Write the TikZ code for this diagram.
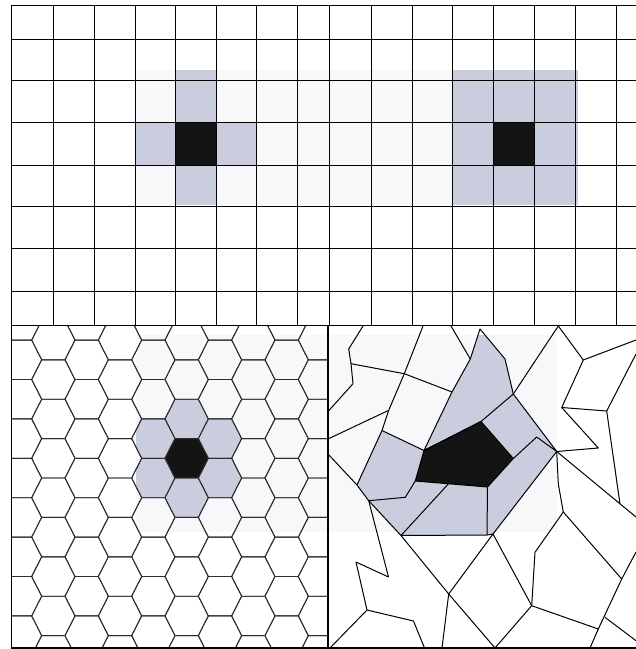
\documentclass[tikz,border=0pt]{standalone}
\definecolor{faint}{RGB}{248,248,251}
\definecolor{cellgray}{RGB}{201,205,221}
\definecolor{cellblack}{RGB}{20,20,20}
\definecolor{hexline}{RGB}{45,45,45}
\begin{document}
\begin{tikzpicture}[x=1pt,y=-1pt,
  gridline/.style={line width=1pt,black},
  hexedge/.style={line width=0.9pt,hexline,line join=round},
  vedge/.style={line width=1pt,black,line join=round},
  border/.style={line width=1.4pt,black}]
\useasboundingbox (0,0) rectangle (636,649);
\fill[white] (0,0) rectangle (636,649);
% ---------------- top square grid ----------------
\fill[faint] (135,70) rectangle (577.7,205);
\fill[cellgray] (175.7,70) rectangle (216.3,122.3);
\fill[cellgray] (135,122.3) rectangle (175.7,165);
\fill[cellgray] (216.3,122.3) rectangle (256.7,165);
\fill[cellgray] (175.7,165) rectangle (216.3,205);
\fill[cellblack] (175.7,122.3) rectangle (216.3,165);
\fill[cellgray] (452.7,70) rectangle (577.7,205);
\fill[cellblack] (493.3,122.3) rectangle (534.7,165);
\foreach \x in {11.7,53.3,94,135,175.7,216.3,256.7,297.3,329.3,371,412,452.7,493.3,534.7,575,616}
  \draw[gridline] (\x,5) -- (\x,325.7);
\foreach \y in {5,39.3,80.7,122.3,165,206.7,248.3,291}
  \draw[gridline] (11.7,\y) -- (636,\y);
% ---------------- hexagonal panel ----------------
\begin{scope}
\clip (11.7,325.7) rectangle (328,648);
\fill[faint] (136,335) rectangle (328,532);
\begin{scope}
\clip (136,335) rectangle (328,532);
\foreach \cx/\cy in {186.67/418.9, 186.67/497.7, 153.34/438.6, 153.34/478.0, 220.0/438.6, 220.0/478.0}
  \fill[cellgray] (\cx-21.67,\cy) -- ++(10,-19.7) -- ++(23.33,0) -- ++(10,19.7) -- ++(-10,19.7) -- ++(-23.33,0) -- cycle;
\end{scope}
\fill[cellblack] (186.67-21.67,458.3) -- ++(10,-19.7) -- ++(23.33,0) -- ++(10,19.7) -- ++(-10,19.7) -- ++(-23.33,0) -- cycle;
\foreach \k in {-5,...,5}{
  \foreach \j in {-4,...,5}{
    \pgfmathsetmacro\cx{186.67+33.33*\k}
    \pgfmathsetmacro\cy{458.3+39.4*\j+19.7*mod(abs(\k),2)}
    \draw[hexedge] (\cx-21.67,\cy) -- ++(10,-19.7) -- ++(23.33,0) -- ++(10,19.7) -- ++(-10,19.7) -- ++(-23.33,0) -- cycle;
  }
}
\end{scope}
% ---------------- irregular panel ----------------
\begin{scope}
\clip (328,325.7) rectangle (636,648);
\fill[faint] (328,335) rectangle (556.7,532);
\begin{scope}
\clip (328,335) rectangle (556.7,535.5);
\fill[cellgray] (480,329) -- (505,359) -- (513.3,394) -- (481,421.5) -- (424,450.5) -- (452,392) -- (470.3,359) -- cycle;
\fill[cellgray] (481,421.5) -- (513.3,394) -- (556.7,451.5) -- (536.7,437) -- (513.3,458.5) -- cycle;
\fill[cellgray] (513.3,458.5) -- (536.7,437) -- (556.7,451.5) -- (493,534) -- (487,535) -- (487.5,487) -- cycle;
\fill[cellgray] (448.3,484) -- (487.5,487) -- (487,535) -- (401,535.5) -- cycle;
\fill[cellgray] (368.7,500.7) -- (405.3,497.3) -- (415.3,481) -- (448.3,484) -- (401,535.5) -- cycle;
\fill[cellgray] (382,430.5) -- (424,450.5) -- (415.3,481) -- (405.3,497.3) -- (368.7,500.7) -- (357,485) -- cycle;
\end{scope}
\fill[cellblack] (424,450.5) -- (481,421.5) -- (513.3,458.5) -- (487.5,487) -- (415.3,481) -- cycle;
% cell outlines
\draw[vedge] (480,329) -- (505,359) -- (513.3,394) -- (481,421.5) -- (424,450.5) -- (452,392) -- (470.3,359) -- cycle;
\draw[vedge] (424,450.5) -- (481,421.5) -- (513.3,458.5) -- (487.5,487) -- (415.3,481) -- cycle;
\draw[vedge] (513.3,394) -- (556.7,451.5) -- (536.7,437) -- (513.3,458.5);
\draw[vedge] (556.7,451.5) -- (493,534) -- (448.7,594) -- (442,648);
\draw[vedge] (487.5,487) -- (487,535);
\draw[vedge] (401,535.5) -- (487,535) -- (493,534);
\draw[vedge] (448.3,484) -- (401,535.5);
\draw[vedge] (382,430.5) -- (424,450.5);
\draw[vedge] (415.3,481) -- (405.3,497.3) -- (368.7,500.7);
\draw[vedge] (382,430.5) -- (357,485);
\draw[vedge] (363,326) -- (348.7,349) -- (351,363.7) -- (353,383.7) -- (328,411.5);
\draw[vedge] (351,363.7) -- (404.3,373.7) -- (452,392);
\draw[vedge] (423,326) -- (404.3,373.7) -- (388.7,410.3) -- (382,430.5);
\draw[vedge] (388.7,410.3) -- (328,439);
\draw[vedge] (451,326) -- (470.3,359);
\draw[vedge] (328,454) -- (357,485) -- (368.7,500.7);
\draw[vedge] (368.7,500.7) -- (401,535.5) -- (448.7,594) -- (495,648);
\draw[vedge] (493,534) -- (531.7,605.7) -- (495,648);
\draw[vedge] (368.7,500.7) -- (388.5,577) -- (356,562) -- (367,610) -- (330,648);
\draw[vedge] (367,610) -- (413.5,621) -- (424.5,648);
\draw[vedge] (558.3,326) -- (513.3,394);
\draw[vedge] (558.3,326) -- (583.3,360) -- (636,340);
\draw[vedge] (583.3,360) -- (561.7,407.5) -- (598.3,448) -- (556.7,451.5);
\draw[vedge] (561.7,407.5) -- (606.7,411) -- (636,354);
\draw[vedge] (606.7,411) -- (620,504);
\draw[vedge] (556.7,451.5) -- (636,517);
\draw[vedge] (556.7,451.5) -- (558.3,484) -- (563.3,512);
\draw[vedge] (563.3,512) -- (535,552.3) -- (531.7,605.7);
\draw[vedge] (563.3,512) -- (621.7,579) -- (636,552);
\draw[vedge] (621.7,579) -- (598.3,629) -- (590,648);
\draw[vedge] (531.7,605.7) -- (598.3,629);
\draw[vedge] (605,617.3) -- (636,640.7);
\end{scope}
% ---------------- panel borders ----------------
\draw[border] (11.7,325.7) -- (636,325.7);
\draw[border] (328,325.7) -- (328,648);
\draw[border] (11.7,5) -- (11.7,648) -- (636,648);
\end{tikzpicture}
\end{document}
